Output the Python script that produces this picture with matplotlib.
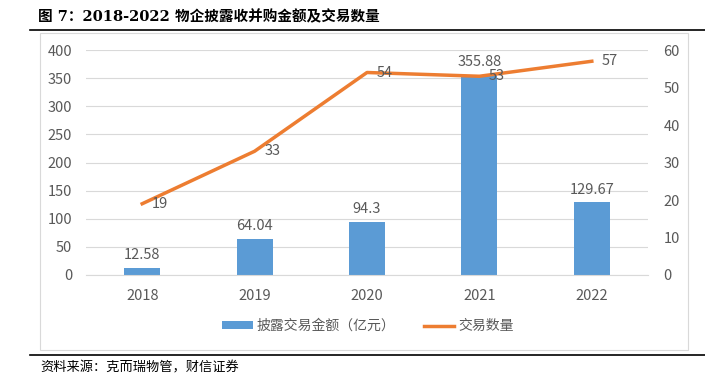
import matplotlib
matplotlib.use('Agg')
import matplotlib.pyplot as plt
from matplotlib.lines import Line2D
from matplotlib.patches import Rectangle

plt.rcParams['font.family'] = ['Noto Sans CJK SC', 'DejaVu Sans']

years = ['2018', '2019', '2020', '2021', '2022']
amount = [12.58, 64.04, 94.3, 355.88, 129.67]
count = [19, 33, 54, 53, 57]
amount_labels = ['12.58', '64.04', '94.3', '355.88', '129.67']

BLUE = '#5B9BD5'
ORANGE = '#ED7D31'
GREY = '#595959'
W, H = 705, 380

fig = plt.figure(figsize=(W / 100, H / 100), dpi=100)

def fx(px):
    return px / W

def fy(py):
    return 1 - py / H

# title, rules and source note
fig.text(fx(38), fy(17), '图 7：2018-2022 物企披露收并购金额及交易数量', fontsize=10.5,
         fontweight='bold', va='center', ha='left', color='black',
         family=['DejaVu Serif', 'Noto Sans CJK SC'])
fig.add_artist(Line2D([fx(30), 1], [fy(30), fy(30)], color='black', lw=1.2))
fig.add_artist(Line2D([fx(30), 1], [fy(355), fy(355)], color='black', lw=1.2))
fig.text(fx(40), fy(368), '资料来源：克而瑞物管，财信证券', fontsize=9.5, style='italic',
         va='center', ha='left', color='black')
fig.add_artist(Rectangle((fx(40), fy(350)), fx(688 - 40), (350 - 33) / H,
                         fill=False, edgecolor='#D9D9D9', lw=0.8))

ax = fig.add_axes([fx(86), fy(275), fx(648 - 86), 225 / H])
ax2 = ax.twinx()

x = list(range(len(years)))
bars = ax.bar(x, amount, width=0.32, color=BLUE, label='披露交易金额（亿元）', zorder=2)
ax.set_ylim(0, 400)
ax.set_yticks(range(0, 401, 50))
ax.set_xlim(-0.5, len(years) - 0.5)
ax.set_xticks(x)
ax.set_xticklabels(years)
ax.grid(axis='y', color='#D9D9D9', lw=0.8, zorder=0)
ax.set_axisbelow(True)
for s in ax.spines.values():
    s.set_visible(False)
ax.spines['bottom'].set_visible(True)
ax.spines['bottom'].set_color('#D9D9D9')
ax.tick_params(length=0, labelsize=10.5, labelcolor=GREY, pad=10)
ax.tick_params(axis='x', pad=10)
for xi, v, lab in zip(x, amount, amount_labels):
    ax.annotate(lab, (xi, v), xytext=(0, 4), textcoords='offset points',
                ha='center', va='bottom', fontsize=10.5, color=GREY)

ax2.plot(x, count, color=ORANGE, lw=2.5, label='交易数量', zorder=3)
ax2.set_ylim(0, 60)
ax2.set_yticks(range(0, 61, 10))
for s in ax2.spines.values():
    s.set_visible(False)
ax2.tick_params(length=0, labelsize=10.5, labelcolor=GREY, pad=11)
for xi, v in zip(x, count):
    ax2.annotate(str(v), (xi, v), xytext=(7, 0), textcoords='offset points',
                 ha='left', va='center', fontsize=10.5, color=GREY)

handles = [bars, Line2D([], [], color=ORANGE, lw=2.5)]
fig.legend(handles, ['披露交易金额（亿元）', '交易数量'], loc='center',
           bbox_to_anchor=(fx(368), fy(326)), ncol=2, frameon=False,
           fontsize=10, labelcolor=GREY, handlelength=2.2, handleheight=0.5,
           columnspacing=2.0, handletextpad=0.3)

fig.savefig('out.png', dpi=100)
